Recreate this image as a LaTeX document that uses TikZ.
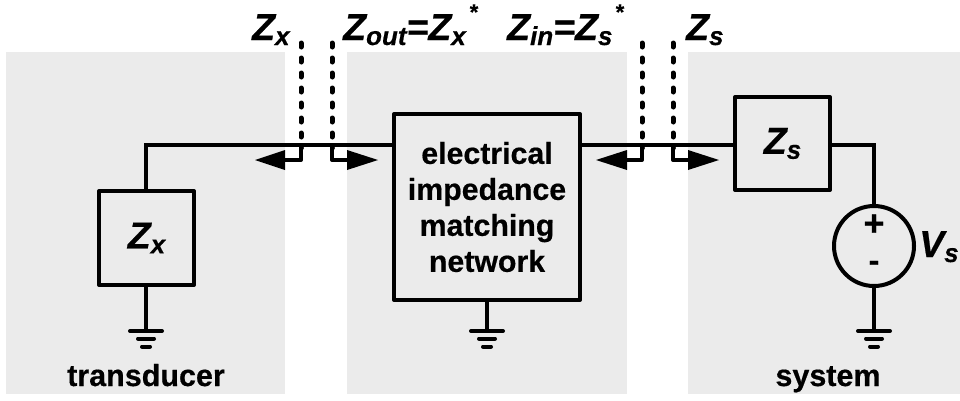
\documentclass[tikz,border=0pt]{standalone}
\usepackage{fontspec}
\setmainfont[BoldFeatures={FakeBold=0.5},BoldItalicFeatures={FakeBold=0.5}]{Liberation Sans}
\usetikzlibrary{arrows.meta}
\definecolor{zone}{HTML}{EBEBEB}
\newcommand{\Zlab}[2]{\fontsize{37.5}{37.5}\selectfont\bfseries\itshape #1\raisebox{-5pt}{\fontsize{26}{26}\selectfont #2}}
\newcommand{\Zsub}[1]{\raisebox{-5pt}{\fontsize{26}{26}\selectfont #1}}
\tikzset{
  x=1pt,y=-1pt,
  zonebox/.style={fill=zone,draw=none},
  wire/.style={line width=4pt},
  block/.style={draw=black,line width=4pt,fill=zone,minimum width=0pt,inner sep=0pt,line join=round,align=center,font=\fontsize{30.3}{36}\selectfont\bfseries},
  probe/.style={line width=5pt,line cap=round,dash pattern=on 4pt off 11pt},
  hook/.style={line width=4pt,line cap=round,line join=round},
  tiparrow/.style={fill=black,draw=none},
  zlabel/.style={inner sep=0pt,anchor=base west},
  caplabel/.style={inner sep=0pt,font=\fontsize{30.5}{30.5}\selectfont\bfseries,anchor=base},
}
\begin{document}
\begin{tikzpicture}
\useasboundingbox (0,0) rectangle (960,400);
\fill[white] (0,0) rectangle (960,400);
\fill[zonebox] (6,52) rectangle (285,394);
\fill[zonebox] (347,52) rectangle (627,394);
\fill[zonebox] (688,52) rectangle (960,394);
% blocks
\node[block,minimum width=95pt,minimum height=94pt] (zx) at (146.5,238) {\Zlab{Z}{x}};
\node[block,minimum width=186pt,minimum height=186pt] (net) at (487,207) {electrical\\impedance\\matching\\network};
\node[block,minimum width=95pt,minimum height=93pt] (zs) at (782.5,143.5) {\Zlab{Z}{s}};
\node[circle,draw=black,line width=4pt,minimum size=80pt,inner sep=0pt] (src) at (874,246) {};
\node[inner sep=0pt,font=\fontsize{36}{36}\selectfont\bfseries] at (874,225) {+};
\node[inner sep=0pt,font=\fontsize{32}{32}\selectfont\bfseries] at (874,266) {-};
\node[zlabel] at (919,257) {\Zlab{V}{s}};
% grounds
\coordinate (gx) at (146,331);
\coordinate (gn) at (487,331);
\coordinate (gs) at (874,331);
\foreach \g in {gx,gn,gs}{
  \draw[line width=4pt,line cap=round] ([xshift=-16pt]\g) -- ([xshift=16pt]\g);
  \draw[line width=4pt,line cap=round] ([xshift=-8pt,yshift=-7.5pt]\g) -- ([xshift=8pt,yshift=-7.5pt]\g);
  \draw[line width=4pt,line cap=round] ([xshift=-4pt,yshift=-15.5pt]\g) -- ([xshift=4pt,yshift=-15.5pt]\g);
}
% wires
\coordinate (corner) at (146,145);
\coordinate (cornerb) at (874,145);
\draw[wire] (zx.north -| corner) -- (corner) -- (corner -| net.west);
\draw[wire] (net.east |- corner) -- (zs.west |- corner);
\draw[wire] (zs.east |- cornerb) -- (cornerb) -- (src.north);
\draw[wire] (zx.south -| gx) -- (gx);
\draw[wire] (net.south) -- (gn);
\draw[wire] (src.south) -- (gs);
% probes
\foreach \n/\px/\bx/\tx in {a/301/285/255,b/332/347/378,c/642/627/596,d/673/688/719}{
  \coordinate (\n top) at (\px,43);
  \coordinate (\n low) at (\px,160);
  \coordinate (\n base) at (\bx,160);
  \coordinate (\n tip) at (\tx,160);
  \draw[probe] (\n top) -- (\px,148);
  \draw[hook] (\px,147) -- (\n low) -- (\n base);
  \fill[tiparrow] (\n tip) -- (\bx,150) -- (\bx,170) -- cycle;
}
% labels
\node[zlabel] at (252,40) {\Zlab{Z}{x}};
\node[zlabel] at (343,40) {\Zlab{Z}{out}\fontsize{37.5}{37.5}\selectfont\bfseries=\itshape Z\Zsub{x}};
\node[inner sep=0pt,font=\fontsize{22}{22}\selectfont\bfseries] at (474,12) {*};
\node[zlabel] at (507,40) {\Zlab{Z}{in}\fontsize{37.5}{37.5}\selectfont\bfseries=\itshape Z\Zsub{s}};
\node[inner sep=0pt,font=\fontsize{22}{22}\selectfont\bfseries] at (620,12) {*};
\node[zlabel] at (686,40) {\Zlab{Z}{s}};
\node[caplabel] at (146,386) {transducer};
\node[caplabel] at (828,386) {system};
\end{tikzpicture}
\end{document}
